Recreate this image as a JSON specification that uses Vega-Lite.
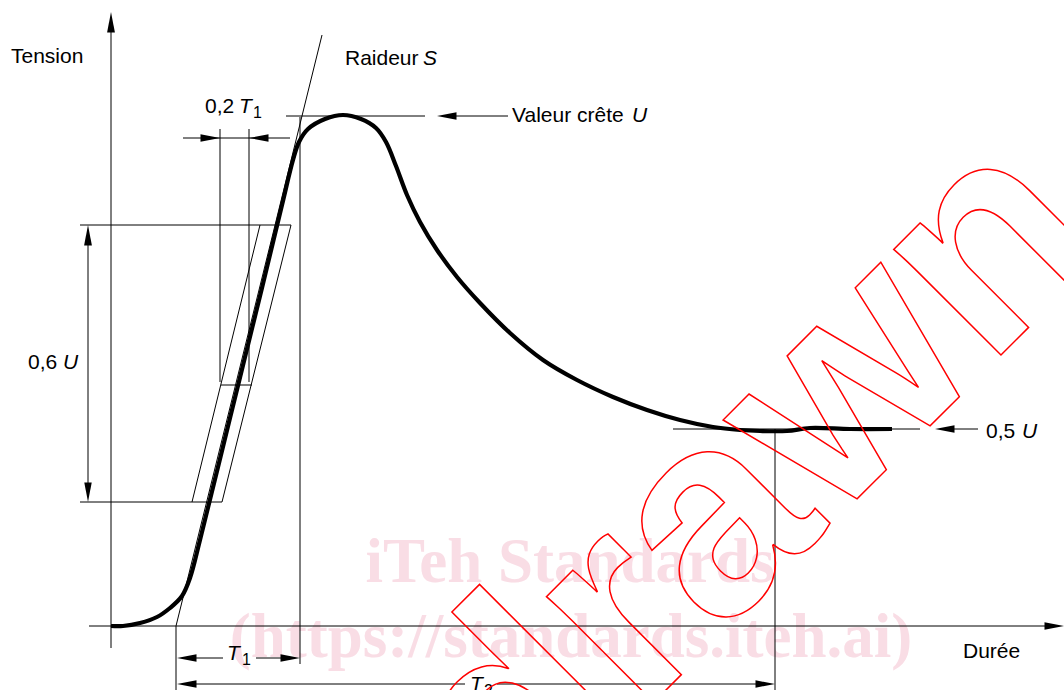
{
  "$schema": "https://vega.github.io/schema/vega-lite/v6.json",
  "width": 1064,
  "height": 690,
  "autosize": "none",
  "padding": 0,
  "background": "white",
  "config": {"view": {"stroke": null}},
  "datasets": {
    "rules": [
      {"x": 111, "y": 30, "x2": 111, "y2": 648},
      {"x": 89, "y": 626, "x2": 1048, "y2": 626},
      {"x": 176, "y": 626, "x2": 322, "y2": 35},
      {"x": 176, "y": 626, "x2": 176, "y2": 690},
      {"x": 300, "y": 117, "x2": 300, "y2": 664},
      {"x": 286, "y": 116, "x2": 425, "y2": 116},
      {"x": 455, "y": 116, "x2": 508, "y2": 116},
      {"x": 183, "y": 138, "x2": 290, "y2": 138},
      {"x": 220, "y": 129, "x2": 220, "y2": 382},
      {"x": 249, "y": 129, "x2": 249, "y2": 382},
      {"x": 221, "y": 385, "x2": 252, "y2": 385},
      {"x": 80, "y": 225, "x2": 291, "y2": 225},
      {"x": 80, "y": 502, "x2": 222, "y2": 502},
      {"x": 260, "y": 225, "x2": 192, "y2": 502},
      {"x": 291, "y": 225, "x2": 222, "y2": 502},
      {"x": 88, "y": 240, "x2": 88, "y2": 487},
      {"x": 673, "y": 429, "x2": 920, "y2": 429},
      {"x": 952, "y": 429, "x2": 978, "y2": 429},
      {"x": 775, "y": 429, "x2": 775, "y2": 690},
      {"x": 190, "y": 658, "x2": 223, "y2": 658},
      {"x": 256, "y": 658, "x2": 290, "y2": 658},
      {"x": 190, "y": 684, "x2": 465, "y2": 684},
      {"x": 497, "y": 684, "x2": 765, "y2": 684}
    ],
    "arrows": [
      {"x": 111, "y": 12, "dir": "up"},
      {"x": 1064, "y": 626, "dir": "right"},
      {"x": 437, "y": 116, "dir": "left"},
      {"x": 220, "y": 138, "dir": "right"},
      {"x": 249, "y": 138, "dir": "left"},
      {"x": 88, "y": 225, "dir": "up"},
      {"x": 88, "y": 502, "dir": "down"},
      {"x": 935, "y": 429, "dir": "left"},
      {"x": 177, "y": 658, "dir": "left"},
      {"x": 300, "y": 658, "dir": "right"},
      {"x": 177, "y": 684, "dir": "left"},
      {"x": 775, "y": 684, "dir": "right"}
    ],
    "wave": [
      {"x": 111, "y": 626}, {"x": 123, "y": 626}, {"x": 140, "y": 623}, {"x": 157, "y": 617},
      {"x": 170, "y": 608}, {"x": 182, "y": 596}, {"x": 190, "y": 578}, {"x": 200, "y": 540},
      {"x": 230, "y": 418}, {"x": 260, "y": 296}, {"x": 282, "y": 205}, {"x": 293, "y": 160},
      {"x": 299, "y": 142}, {"x": 308, "y": 129}, {"x": 325, "y": 119}, {"x": 343, "y": 115},
      {"x": 361, "y": 119}, {"x": 376, "y": 128}, {"x": 386, "y": 142}, {"x": 396, "y": 166},
      {"x": 407, "y": 195}, {"x": 420, "y": 222}, {"x": 437, "y": 250}, {"x": 457, "y": 277},
      {"x": 480, "y": 303}, {"x": 510, "y": 333}, {"x": 543, "y": 360}, {"x": 577, "y": 380},
      {"x": 613, "y": 397}, {"x": 647, "y": 410}, {"x": 680, "y": 420}, {"x": 713, "y": 427},
      {"x": 740, "y": 430}, {"x": 760, "y": 431}, {"x": 787, "y": 431}, {"x": 810, "y": 428},
      {"x": 850, "y": 429}, {"x": 892, "y": 429}
    ],
    "labels": [
      {"x": 11, "y": 63, "t": "Tension"},
      {"x": 345, "y": 65, "t": "Raideur"},
      {"x": 512, "y": 122, "t": "Valeur crête"},
      {"x": 205, "y": 113, "t": "0,2"},
      {"x": 28, "y": 369, "t": "0,6"},
      {"x": 986, "y": 438, "t": "0,5"},
      {"x": 963, "y": 658, "t": "Durée"}
    ],
    "italics": [
      {"x": 423, "y": 65, "t": "S"},
      {"x": 632, "y": 122, "t": "U"},
      {"x": 239, "y": 113, "t": "T"},
      {"x": 63, "y": 369, "t": "U"},
      {"x": 1022, "y": 438, "t": "U"},
      {"x": 227, "y": 660, "t": "T"},
      {"x": 470, "y": 691, "t": "T"}
    ],
    "subs": [
      {"x": 253, "y": 118, "t": "1"},
      {"x": 242, "y": 665, "t": "1"},
      {"x": 484, "y": 696, "t": "2"}
    ],
    "pink": [
      {"x": 570, "y": 582, "t": "iTeh Standards"},
      {"x": 571, "y": 657, "t": "(https://standards.iteh.ai)"}
    ],
    "stamp": [
      {"x": 1110, "y": 246, "t": "Withdrawn"}
    ]
  },
  "layer": [
    {
      "data": {"name": "pink"},
      "mark": {"type": "text", "font": "Liberation Serif", "fontWeight": "bold", "fontSize": 63, "align": "center", "baseline": "alphabetic", "color": "#f9dde5"},
      "encoding": {
        "x": {"field": "x", "type": "quantitative", "scale": {"domain": [0, 1064], "nice": false, "zero": false}, "axis": null},
        "y": {"field": "y", "type": "quantitative", "scale": {"domain": [0, 690], "reverse": true, "nice": false, "zero": false}, "axis": null},
        "text": {"field": "t", "type": "nominal"}
      }
    },
    {
      "data": {"name": "rules"},
      "mark": {"type": "rule", "color": "#000000", "strokeWidth": 1},
      "encoding": {
        "x": {"field": "x", "type": "quantitative"},
        "y": {"field": "y", "type": "quantitative"},
        "x2": {"field": "x2"},
        "y2": {"field": "y2"}
      }
    },
    {
      "data": {"name": "arrows"},
      "transform": [{"filter": "datum.dir === 'right'"}],
      "mark": {"type": "point", "filled": true, "color": "#000000", "opacity": 1, "size": 380, "shape": "M0,0L-2,-0.38L-2,0.38Z"},
      "encoding": {
        "x": {"field": "x", "type": "quantitative"},
        "y": {"field": "y", "type": "quantitative"}
      }
    },
    {
      "data": {"name": "arrows"},
      "transform": [{"filter": "datum.dir === 'left'"}],
      "mark": {"type": "point", "filled": true, "color": "#000000", "opacity": 1, "size": 380, "shape": "M0,0L2,-0.38L2,0.38Z"},
      "encoding": {
        "x": {"field": "x", "type": "quantitative"},
        "y": {"field": "y", "type": "quantitative"}
      }
    },
    {
      "data": {"name": "arrows"},
      "transform": [{"filter": "datum.dir === 'up'"}],
      "mark": {"type": "point", "filled": true, "color": "#000000", "opacity": 1, "size": 420, "shape": "M0,0L-0.38,2L0.38,2Z"},
      "encoding": {
        "x": {"field": "x", "type": "quantitative"},
        "y": {"field": "y", "type": "quantitative"}
      }
    },
    {
      "data": {"name": "arrows"},
      "transform": [{"filter": "datum.dir === 'down'"}],
      "mark": {"type": "point", "filled": true, "color": "#000000", "opacity": 1, "size": 380, "shape": "M0,0L-0.38,-2L0.38,-2Z"},
      "encoding": {
        "x": {"field": "x", "type": "quantitative"},
        "y": {"field": "y", "type": "quantitative"}
      }
    },
    {
      "data": {"name": "wave"},
      "mark": {"type": "line", "color": "#000000", "strokeWidth": 4.2, "interpolate": "catmull-rom", "strokeCap": "butt"},
      "encoding": {
        "x": {"field": "x", "type": "quantitative"},
        "y": {"field": "y", "type": "quantitative"}
      }
    },
    {
      "data": {"name": "labels"},
      "mark": {"type": "text", "font": "Liberation Sans", "fontSize": 21, "align": "left", "baseline": "alphabetic", "color": "#000000"},
      "encoding": {
        "x": {"field": "x", "type": "quantitative"},
        "y": {"field": "y", "type": "quantitative"},
        "text": {"field": "t", "type": "nominal"}
      }
    },
    {
      "data": {"name": "italics"},
      "mark": {"type": "text", "font": "Liberation Sans", "fontStyle": "italic", "fontSize": 21, "align": "left", "baseline": "alphabetic", "color": "#000000"},
      "encoding": {
        "x": {"field": "x", "type": "quantitative"},
        "y": {"field": "y", "type": "quantitative"},
        "text": {"field": "t", "type": "nominal"}
      }
    },
    {
      "data": {"name": "subs"},
      "mark": {"type": "text", "font": "Liberation Sans", "fontSize": 16, "align": "left", "baseline": "alphabetic", "color": "#000000"},
      "encoding": {
        "x": {"field": "x", "type": "quantitative"},
        "y": {"field": "y", "type": "quantitative"},
        "text": {"field": "t", "type": "nominal"}
      }
    },
    {
      "data": {"name": "stamp"},
      "mark": {"type": "text", "font": "Liberation Sans", "fontWeight": "bold", "fontSize": 285, "align": "right", "baseline": "alphabetic", "angle": -45, "color": "#ff0000", "fillOpacity": 0, "stroke": "#ff0000", "strokeWidth": 1.5},
      "encoding": {
        "x": {"field": "x", "type": "quantitative"},
        "y": {"field": "y", "type": "quantitative"},
        "text": {"field": "t", "type": "nominal"}
      }
    }
  ]
}
